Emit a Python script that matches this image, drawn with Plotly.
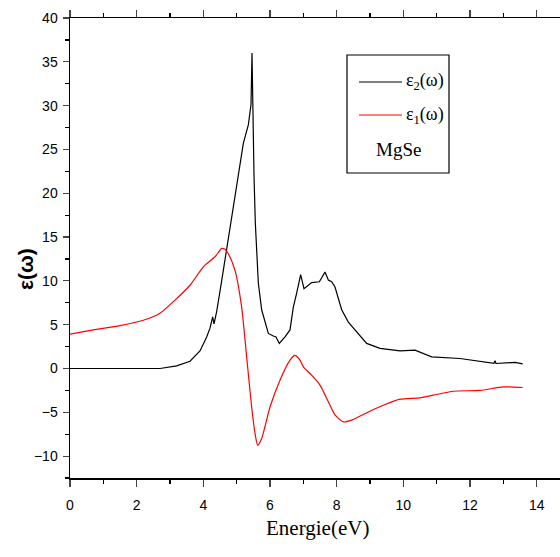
import plotly.graph_objects as go

# ε2(ω) black curve
e2_energy = [0, 2.7, 3.2, 3.6, 3.9, 4.1, 4.2, 4.28, 4.32, 4.4, 4.55, 4.7, 4.95, 5.2, 5.35, 5.43,
             5.46, 5.48, 5.52, 5.56, 5.65, 5.75, 5.95, 6.1, 6.18, 6.28, 6.45, 6.6, 6.7, 6.8,
             6.92, 7.02, 7.25, 7.48, 7.65, 7.75, 7.85, 7.95, 8.15, 8.35, 8.7, 8.9, 9.3, 9.9,
             10.35, 10.85, 11.7, 12.3, 12.72, 12.75, 12.78, 13.35, 13.58]
e2_values = [0, 0, 0.3, 0.83, 2.0, 3.6, 4.6, 5.9, 5.1, 6.5, 10.0, 13.7, 19.8, 25.7, 27.8, 30.1,
             36.0, 31.0, 22.0, 16.6, 9.75, 6.7, 4.0, 3.7, 3.6, 2.85, 3.6, 4.4, 7.0, 8.6,
             10.7, 9.1, 9.8, 9.9, 11.0, 10.1, 9.9, 9.3, 6.7, 5.3, 3.8, 2.86, 2.3, 2.0,
             2.1, 1.33, 1.14, 0.83, 0.6, 0.9, 0.57, 0.69, 0.53]

# ε1(ω) red curve
e1_energy = [0, 0.7, 1.5, 2.2, 2.7, 3.15, 3.6, 4.0, 4.35, 4.55, 4.65, 4.75, 4.95, 5.15, 5.3,
             5.45, 5.55, 5.63, 5.75, 6.0, 6.3, 6.6, 6.75, 6.9, 7.0, 7.25, 7.5, 7.75, 7.95,
             8.2, 8.45, 8.95, 9.4, 9.9, 10.5, 10.9, 11.5, 12.3, 13.0, 13.58]
e1_values = [3.92, 4.4, 4.9, 5.5, 6.3, 7.8, 9.5, 11.6, 12.75, 13.7, 13.6, 13.1, 11.2, 7.0, 1.33,
             -4.4, -7.4, -8.77, -8.0, -4.4, -1.34, 0.95, 1.5, 0.95, 0.19, -0.76, -1.9, -3.8, -5.3,
             -6.1, -5.9, -4.96, -4.2, -3.5, -3.35, -3.05, -2.6, -2.5, -2.1, -2.17]

x_ticks = [0, 2, 4, 6, 8, 10, 12, 14]
y_ticks = [-10, -5, 0, 5, 10, 15, 20, 25, 30, 35, 40]

W, H = 570, 557
L, R, T, B = 70, 0, 18, 79
pw, ph = W - L - R, H - T - B


def px(x):
    return (x - L) / pw


def py(y):
    return (H - B - y) / ph


fig = go.Figure()
fig.add_trace(go.Scatter(x=e2_energy, y=e2_values, mode="lines",
                         line=dict(color="black", width=1.2), showlegend=False))
fig.add_trace(go.Scatter(x=e1_energy, y=e1_values, mode="lines",
                         line=dict(color="red", width=1.2, shape="spline", smoothing=0.6),
                         showlegend=False))

tickfont = dict(family="Liberation Sans Narrow, Arial Narrow, Liberation Sans, Arial", size=14, color="black")

fig.update_xaxes(range=[0, pw / 33.333], tickvals=x_ticks, ticks="outside", ticklen=7, tickwidth=1.2,
                 showline=True, linecolor="black", linewidth=1.5, mirror="ticks",
                 showgrid=False, zeroline=False, tickfont=tickfont, ticklabelstandoff=7,
                 minor=dict(dtick=1, ticks="outside", ticklen=4, tickcolor="black", showgrid=False))
fig.update_yaxes(range=[-12.5, 40], tickvals=y_ticks, ticks="outside", ticklen=6, tickwidth=1.2,
                 showline=True, linecolor="black", linewidth=1.5,
                 showgrid=False, zeroline=False, tickfont=tickfont, ticklabelstandoff=2,
                 minor=dict(dtick=2.5, ticks="outside", ticklen=4, tickcolor="black", showgrid=False))

# legend box
fig.add_shape(type="rect", xref="paper", yref="paper", x0=px(347), x1=px(449), y0=py(173), y1=py(55),
              line=dict(color="black", width=1.2))
fig.add_shape(type="line", xref="paper", yref="paper", x0=px(359), x1=px(402), y0=py(82), y1=py(82),
              line=dict(color="black", width=1.2))
fig.add_shape(type="line", xref="paper", yref="paper", x0=px(359), x1=px(402), y0=py(115), y1=py(115),
              line=dict(color="red", width=1.2))

tfont = dict(family="Liberation Serif, Times New Roman, serif", size=18, color="black")
fig.add_annotation(xref="paper", yref="paper", x=px(404), y=py(82), xanchor="left", yanchor="middle",
                   text="ε<sub>2</sub>(ω)", showarrow=False, font=tfont)
fig.add_annotation(xref="paper", yref="paper", x=px(404), y=py(115), xanchor="left", yanchor="middle",
                   text="ε<sub>1</sub>(ω)", showarrow=False, font=tfont)
fig.add_annotation(xref="paper", yref="paper", x=px(398), y=py(149), xanchor="center", yanchor="middle",
                   text="MgSe", showarrow=False, font=dict(family=tfont["family"], size=19, color="black"))

# axis titles
fig.add_annotation(xref="paper", yref="paper", x=px(317), y=py(528), xanchor="center", yanchor="middle",
                   text="Energie(eV)", showarrow=False,
                   font=dict(family="Liberation Serif, Times New Roman, serif", size=21, color="black"))
fig.add_annotation(xref="paper", yref="paper", x=px(25), y=py(269), xanchor="center", yanchor="middle",
                   text="<b>ε(ω)</b>", showarrow=False, textangle=-90,
                   font=dict(family="Liberation Sans, Arial", size=21, color="black"))

fig.update_layout(width=W, height=H, margin=dict(l=L, r=R, t=T, b=B, autoexpand=False),
                  plot_bgcolor="white", paper_bgcolor="white")

fig.write_html("out.html", config={"staticPlot": True, "displayModeBar": False},
               post_script="document.body.style.margin='0px';document.body.style.overflow='hidden';")
